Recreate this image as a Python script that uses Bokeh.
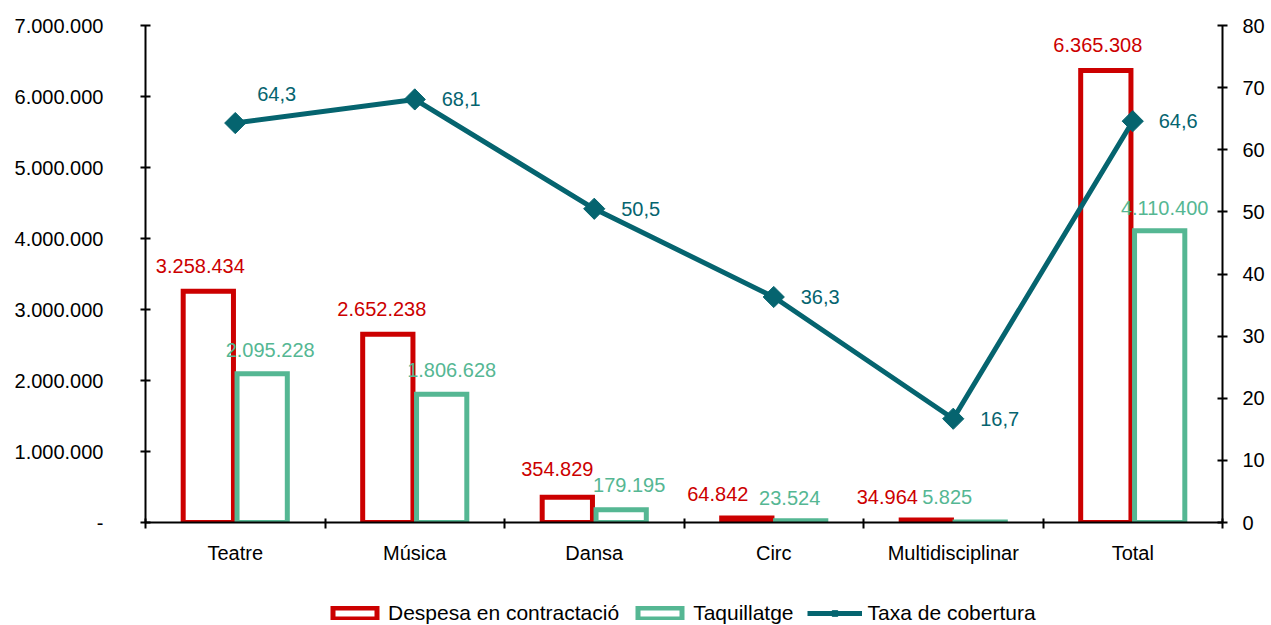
import numpy as np
from bokeh.plotting import figure
from bokeh.layouts import column
from bokeh.models import (ColumnDataSource, Range1d, LinearAxis, FixedTicker,
                          Legend, LegendItem)
from bokeh.core.properties import value
from bokeh.embed import file_html
from bokeh.resources import INLINE

# ---------------- data ----------------
categories = ["Teatre", "Música", "Dansa", "Circ", "Multidisciplinar", "Total"]
despesa = [3258434, 2652238, 354829, 64842, 34964, 6365308]
taquillatge = [2095228, 1806628, 179195, 23524, 5825, 4110400]
cobertura = [64.3, 68.1, 50.5, 36.3, 16.7, 64.6]
left_ticks = [0, 1000000, 2000000, 3000000, 4000000, 5000000, 6000000, 7000000]
right_ticks = [0, 10, 20, 30, 40, 50, 60, 70, 80]
series_names = ["Despesa en contractació", "Taquillatge", "Taxa de cobertura"]

# ---------------- styling ----------------
FONT = "Liberation Sans"
RED = "#CC0000"
GREEN = "#55B793"
TEAL = "#05646F"
FS = "20px"
W = 1269

# label pixel offsets (placement only)
red_dx = [-8, -6, -10, -29, -39, -8]
red_dy = [-25, -25, -28, -24, -23, -26]
green_dx = [8, 10, 8, -11, -33, 5]
green_dy = [-24, -24, -25, -23, -25, -23]
line_dx = [22, 27, 27, 27, 27, 26]
line_dy = [-29, 0, 0, 0, 0, 0]


def fmt_int(v):
    return "{:,}".format(v).replace(",", ".")


def fmt_dec(v):
    return "{:.1f}".format(v).replace(".", ",")


n = len(categories)
xc = np.arange(n) + 0.5

p = figure(width=W, height=600, x_range=Range1d(0, n),
           y_range=Range1d(left_ticks[0], left_ticks[-1]),
           output_backend="svg", toolbar_location=None,
           x_axis_type=None, y_axis_type=None,
           min_border_left=145, min_border_right=W - 1222,
           min_border_top=25, min_border_bottom=78)
p.extra_y_ranges = {"pct": Range1d(right_ticks[0], right_ticks[-1])}
p.outline_line_color = None
p.xgrid.visible = False
p.ygrid.visible = False


def style_axis(ax):
    ax.axis_line_color = "black"
    ax.axis_line_width = 2
    ax.major_tick_line_color = "black"
    ax.major_tick_line_width = 2
    ax.minor_tick_line_color = "black"
    ax.minor_tick_line_width = 2
    ax.major_label_text_font = FONT
    ax.major_label_text_font_size = FS
    ax.major_label_text_color = "black"


# left axis
yl = LinearAxis(ticker=FixedTicker(ticks=left_ticks, minor_ticks=[]))
yl.major_label_overrides = {t: ("-" if t == 0 else fmt_int(t)) for t in left_ticks}
style_axis(yl)
yl.major_tick_in = 5
yl.major_tick_out = 5
yl.major_label_standoff = 37
p.add_layout(yl, "left")

# right axis
yr = LinearAxis(y_range_name="pct",
                ticker=FixedTicker(ticks=right_ticks, minor_ticks=[]))
style_axis(yr)
yr.major_tick_in = 5
yr.major_tick_out = 5
yr.major_label_standoff = 15
p.add_layout(yr, "right")

# bottom axis
xa = LinearAxis(ticker=FixedTicker(ticks=list(xc), minor_ticks=list(range(n + 1))))
xa.major_label_overrides = {float(x): c for x, c in zip(xc, categories)}
style_axis(xa)
xa.major_tick_in = 0
xa.major_tick_out = 0
xa.minor_tick_in = 4
xa.minor_tick_out = 6
xa.major_label_standoff = 13
p.add_layout(xa, "below")

src = ColumnDataSource(dict(
    xr=xc - 0.15, xg=xc + 0.15, despesa=despesa, taquillatge=taquillatge,
    lr=[fmt_int(v) for v in despesa], lg=[fmt_int(v) for v in taquillatge],
    rdx=red_dx, rdy=red_dy, gdx=green_dx, gdy=green_dy,
    xl=xc, cob=cobertura, lc=[fmt_dec(v) for v in cobertura],
    ldx=line_dx, ldy=line_dy))

bar_style = dict(fill_color=None, line_width=5, line_join="miter")
line_style = dict(line_color=TEAL, line_width=5, line_join="round")
mark_style = dict(marker="square", angle=np.pi / 4, size=15,
                  fill_color=TEAL, line_color=TEAL)

p.vbar(x="xr", top="despesa", bottom=0, width=0.28, source=src,
       line_color=RED, **bar_style)
p.vbar(x="xg", top="taquillatge", bottom=0, width=0.28, source=src,
       line_color=GREEN, **bar_style)

p.text(x="xr", y="despesa", text="lr", x_offset="rdx", y_offset="rdy", source=src,
       text_align="center", text_baseline="middle", text_font=value(FONT),
       text_font_size=FS, text_color=RED)
p.text(x="xg", y="taquillatge", text="lg", x_offset="gdx", y_offset="gdy", source=src,
       text_align="center", text_baseline="middle", text_font=value(FONT),
       text_font_size=FS, text_color=GREEN)

p.line(x="xl", y="cob", source=src, y_range_name="pct", **line_style)
p.scatter(x="xl", y="cob", source=src, y_range_name="pct", **mark_style)
p.text(x="xl", y="cob", text="lc", x_offset="ldx", y_offset="ldy", source=src,
       y_range_name="pct", text_align="left", text_baseline="middle",
       text_font=value(FONT), text_font_size=FS, text_color=TEAL)

# ---------------- legend strip (frame aligned with the chart's frame) ----------------
LH = 25
q = figure(width=W, height=LH, x_range=Range1d(0, 1), y_range=Range1d(0, 1),
           output_backend="svg", toolbar_location=None,
           x_axis_type=None, y_axis_type=None, min_border=0)
q.outline_line_color = None
q.xgrid.visible = False
q.ygrid.visible = False
lr_red = q.vbar(x="xr", top="despesa", width=0.28, source=src, line_color=RED,
                visible=False, **bar_style)
lr_green = q.vbar(x="xg", top="taquillatge", width=0.28, source=src, line_color=GREEN,
                  visible=False, **bar_style)
lr_line = q.line(x="xl", y="cob", source=src, visible=False, **line_style)
lr_pts = q.scatter(x="xl", y="cob", source=src, visible=False, **mark_style)

legend = Legend(items=[
    LegendItem(label=series_names[0], renderers=[lr_red]),
    LegendItem(label=series_names[1], renderers=[lr_green]),
    LegendItem(label=series_names[2], renderers=[lr_line, lr_pts]),
], orientation="horizontal", location=(327 - 145, 0))
legend.label_text_font = FONT
legend.label_text_font_size = "21px"
legend.label_text_color = "black"
legend.glyph_width = 55
legend.glyph_height = 14
legend.label_standoff = 6
legend.spacing = 13
legend.padding = 0
legend.margin = 0
legend.border_line_color = None
legend.background_fill_alpha = 0
legend.inactive_fill_alpha = 0
q.add_layout(legend)

layout = column(p, q, spacing=0)
open("out.html", "w").write(file_html(layout, INLINE))
